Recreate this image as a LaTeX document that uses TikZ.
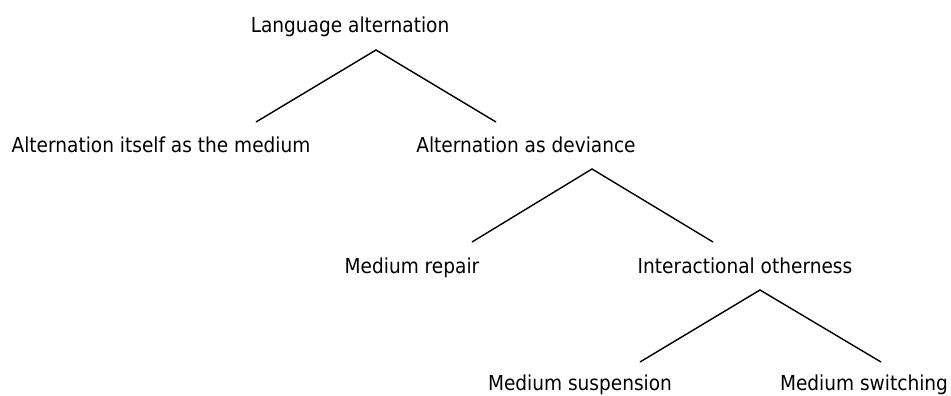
\documentclass[tikz,border=0pt]{standalone}
\usepackage{fontspec}
\setmainfont{DejaVu Sans}[FakeStretch=0.9]
\usepackage{tikz}

\begin{document}
\begin{tikzpicture}[x=1pt, y=-1pt,
	label text/.style={anchor=base, inner sep=0pt, font=\fontsize{20.6}{24}\selectfont},
	branch/.style={line width=1.4pt, line join=miter}]
	\useasboundingbox (0,0) rectangle (951,396);
	% labels
	\node[label text] (lang) at (350,33) {Language alternation};
	\node[label text] (itself) at (161,152) {Alternation itself as the medium};
	\node[label text] (deviance) at (526,152) {Alternation as deviance};
	\node[label text] (repair) at (412,273) {Medium repair};
	\node[label text] (otherness) at (745,273) {Interactional otherness};
	\node[label text] (suspension) at (580,390) {Medium suspension};
	\node[label text] (switching) at (864,390) {Medium switching};
	% fork points
	\coordinate (lang fork) at (376,50);
	\coordinate (itself top) at (256,122);
	\coordinate (deviance top) at (496,122);
	\coordinate (deviance fork) at (592,169);
	\coordinate (repair top) at (472,242);
	\coordinate (otherness top) at (713,242);
	\coordinate (otherness fork) at (760,290);
	\coordinate (suspension top) at (640,362);
	\coordinate (switching top) at (881,362);
	% branches
	\draw[branch] (itself top) -- (lang fork) -- (deviance top);
	\draw[branch] (repair top) -- (deviance fork) -- (otherness top);
	\draw[branch] (suspension top) -- (otherness fork) -- (switching top);
\end{tikzpicture}
\end{document}
